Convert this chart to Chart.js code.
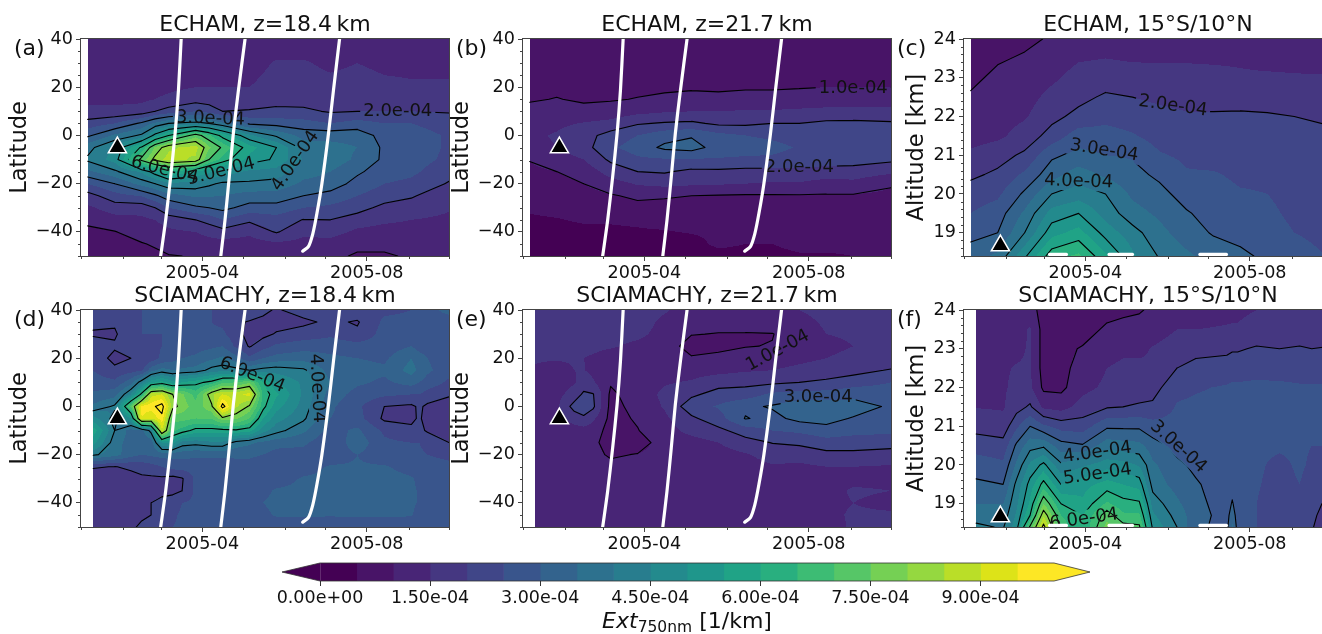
<!DOCTYPE html>
<html>
<head>
<meta charset="utf-8">
<title>Ext750nm</title>
<script src="https://cdn.jsdelivr.net/npm/chart.js@4"></script>
<style>
html, body { margin: 0; padding: 0; background: #fff; width: 1322px; height: 634px; overflow: hidden; }
canvas { position: absolute; }
</style>
</head>
<body>
<script>
// values are in 1e-5 1/km, x is day since 2005-01-01
const monthStarts = [0, 31, 59, 90, 120, 151, 181, 212, 243, 273];
const xMajor = [90, 212];
const xMajorLabels = { 90: '2005-04', 212: '2005-08' };
const latTicks = [-40, -20, 0, 20, 40];
const latMinor = [-50, -45, -35, -30, -25, -15, -10, -5, 5, 10, 15, 25, 30, 35];
const altTicks = [19, 20, 21, 22, 23, 24];
const altMinor = [18.4, 18.6, 18.8, 19.2, 19.4, 19.6, 19.8, 20.2, 20.4, 20.6, 20.8, 21.2, 21.4, 21.6, 21.8, 22.2, 22.4, 22.6, 22.8, 23.2, 23.4, 23.6, 23.8];

const viridis = ['#440154', '#481467', '#482576', '#453781', '#404688', '#39558c', '#33638d', '#2d718e', '#287d8e', '#238a8d',
  '#1f968b', '#20a386', '#29af7f', '#3dbc74', '#56c667', '#75d054', '#95d840', '#bade28', '#dde318', '#fde725'];

const daysA = [5, 25, 45, 55, 65, 85, 95, 105, 125, 145, 165, 185, 205, 225, 245, 273];
const daysEcham = [5, 25, 45, 65, 85, 105, 125, 145, 165, 185, 205, 225, 245, 273];
const daysSciaD = [9, 25, 37, 45, 52, 60, 68, 75, 85, 97, 105, 115, 125, 135, 145, 165, 185, 205, 225, 245, 251, 257, 273];
const daysSciaE = [9, 25, 38, 45, 52, 65, 85, 105, 125, 145, 165, 185, 205, 225, 245, 273];
const daysSciaF = [9, 29, 39, 49, 59, 72, 88, 106, 118, 130, 140, 158, 172, 195, 199, 203, 217, 234, 249, 258, 273];

const latsShort = [40, 30, 20, 15, 10, 5, 0, -5, -10, -15, -20, -25, -30, -35, -40, -45, -50];
const latsLong = [40, 35, 30, 25, 20, 15, 10, 5, 0, -5, -10, -15, -20, -25, -30, -35, -40, -45, -50];
const altsC = [24, 23.5, 23, 22.5, 22, 21.5, 21, 20.5, 20, 19.5, 19, 18.4];
const altsF = [24, 23.5, 23, 22.5, 22, 21.5, 21, 20.5, 20, 19.5, 19, 18.7, 18.4];

// one inner array per time column, top row first
const gridA = [
  [11, 12, 13, 14, 16, 22, 29, 38, 41, 34, 25, 18, 14, 11, 9, 8, 7],
  [11, 11, 12, 14, 16, 25, 36, 46, 47, 39, 30, 23, 17.5, 13, 9.8, 8, 7],
  [11, 11, 13, 14, 17, 31, 41, 61, 72, 46, 37, 25.5, 17, 14, 12, 9.7, 8],
  [11, 11.5, 13.5, 15, 20, 36, 52, 76, 82, 53, 40, 29, 20, 15, 13, 10.5, 9],
  [11, 12, 14, 16, 22, 40, 60, 84, 87, 60, 44, 33, 25, 17, 14, 11.5, 9.8],
  [11, 12, 15, 18, 25, 42, 73, 87, 84, 55, 43, 36, 29, 20, 15, 12.5, 10.2],
  [11, 12.5, 15, 17.5, 23, 40, 66, 76, 70, 51, 41, 35.5, 30, 22, 16.5, 13, 10.5],
  [11, 13, 15, 17, 20, 36, 58, 69, 63, 48, 39, 35, 31.5, 25, 18, 13, 11],
  [11, 13, 15, 17, 20.5, 29, 46, 57, 53, 44, 39, 33, 28, 21, 16, 13, 11],
  [12, 15.5, 17, 18.5, 21, 28, 39, 50, 49, 43, 38, 33, 28, 23, 20.5, 14, 11],
  [12, 15.5, 17, 18, 21, 27, 33, 38, 39.5, 37, 34, 30, 25, 19.8, 16, 13.5, 11.5],
  [12, 14, 16.5, 18, 19.5, 25, 33, 37, 38, 35, 33, 28, 24, 20, 17, 13, 11],
  [12, 15, 17, 18, 20, 27, 33, 35, 34, 31, 28, 25, 22, 17.5, 14, 11, 9.5],
  [12, 14, 16, 18, 20, 25, 28, 29, 29, 27, 25, 22.5, 18.5, 16, 13, 11, 9.5],
  [12, 14, 15.5, 18, 20, 25, 27, 27, 27, 26, 24, 20.5, 18, 15, 13, 11.5, 10.5],
  [12, 14, 15.5, 17, 19.5, 23, 24.5, 24.5, 24, 22, 19.5, 17, 15.5, 14, 13, 11, 10]
];
const gridB = [
  [7, 7.5, 8, 9.5, 11.5, 13, 14, 13.5, 10.2, 9, 8, 7, 5.5, 4.5, 3.5, 3, 2.5],
  [7, 7.5, 9, 10.2, 12, 14, 15.5, 15, 12.5, 10, 8.5, 7, 6, 4.8, 4, 3, 2.5],
  [7, 7.5, 8.5, 9.3, 11.5, 15.3, 18, 18, 15, 12, 10, 8, 6.5, 5.4, 4.2, 3.5, 3],
  [7, 8, 9, 9.6, 12, 16.5, 22, 24, 21, 17, 13, 9.5, 7.5, 5.3, 4.5, 3.5, 3],
  [7.5, 8, 9, 10.2, 13.5, 19.5, 25, 27.5, 24, 20, 15.5, 11, 8.5, 5.5, 4.7, 3.8, 3],
  [7.5, 8.5, 9.3, 10.8, 14.5, 20.5, 28, 31, 24.5, 20.5, 16.5, 10.5, 8.5, 6, 4.8, 3.8, 3],
  [7.5, 8.5, 9.6, 11, 15, 21, 29.5, 32, 24.5, 18.8, 15.8, 10, 8.5, 6.5, 5.2, 4, 3.2],
  [7.5, 8.5, 9.5, 10.8, 15, 19, 26.5, 28, 24.5, 19, 15.5, 9.7, 8.5, 6.5, 5.5, 5.6, 4],
  [7.5, 8.5, 9.7, 11, 15.5, 19, 25, 27.5, 24, 18.5, 15, 9.5, 8.5, 7, 6, 5, 4],
  [7.5, 8.5, 9.7, 11, 15.5, 20, 24, 26.5, 24, 18.5, 14.5, 9.5, 8.5, 7, 6, 5, 4.5],
  [7.5, 8.5, 9.8, 11.5, 16, 20, 23, 24.5, 23, 18.5, 14.5, 9.6, 8.5, 7.5, 6.5, 5.5, 4.8],
  [8, 8.5, 10, 12, 16.5, 21, 24, 24.5, 22.5, 18, 13, 9.5, 8.5, 7.5, 6.5, 5.5, 4.8],
  [8, 8.5, 10, 12, 17, 21, 24, 24.5, 22, 18, 13.5, 9.5, 8.5, 7.5, 6.5, 5.5, 5],
  [8, 8.5, 10, 12, 17, 20.5, 23, 23.5, 21, 16, 10.5, 9, 8, 7.5, 6.5, 5.5, 5]
];
const gridC = [
  [7, 8, 9, 10.5, 11.5, 13, 16, 19, 22.5, 25, 28, 33],
  [8, 9.5, 11, 12, 13, 14, 18, 21, 24, 27.5, 30, 36],
  [9, 10.5, 11.5, 13, 14.5, 17, 21, 26, 31, 36, 40, 49],
  [10.5, 12, 14, 16.5, 18.5, 22, 29, 33, 40, 47, 53, 63],
  [11, 14.5, 17, 18.5, 21.5, 27.5, 31.5, 37.5, 42.5, 50, 57, 66],
  [12, 15, 17.5, 20.8, 23.5, 27, 30, 34, 40, 43, 48, 56],
  [12, 14.5, 17, 20, 22.5, 25.5, 29.5, 31.5, 34, 37, 42, 46],
  [12, 14.5, 16.5, 19, 21.5, 23, 25.5, 29, 31.5, 34, 36.5, 39.5],
  [12, 14.5, 16.5, 18.5, 20.5, 22, 24, 25.5, 28, 30.5, 32.5, 36],
  [12, 14.5, 16, 18.5, 20.5, 21.5, 23, 25.5, 27, 28, 29.5, 33],
  [12, 14.5, 15.5, 18.3, 20.7, 21.5, 23, 24, 25.5, 27, 28.5, 31],
  [12, 14, 15.5, 18, 20.5, 21.5, 22.5, 24, 25, 26, 27, 29],
  [12, 14, 15.3, 18, 20, 21, 22, 23, 23.5, 24, 25, 27],
  [12, 14, 15.2, 17.5, 19.5, 20.5, 21, 22, 22.5, 23, 23.5, 24.5]
];
const gridD = [
  [24, 21, 19.5, 22, 24, 25, 27, 31, 36, 47, 58, 52, 41, 20.5, 17, 18, 18, 18, 18],
  [24, 21, 19, 21, 18, 21.5, 26, 33, 41, 38, 40, 37, 37, 19.8, 18, 17, 17, 17, 19],
  [25, 24, 25, 23, 20, 23, 33, 45, 72, 50, 33, 33, 32, 21, 18, 18, 18, 18, 19],
  [25, 25, 25, 24, 20, 24, 43, 62, 97, 95, 33, 32, 30, 22, 19, 19, 19, 19, 21],
  [25, 25, 25, 24, 22, 33, 53, 88, 98, 90, 42, 32, 31, 23, 19, 19, 20, 20, 21],
  [25, 25, 25, 25, 26, 37, 57, 90, 103, 98, 90, 50, 32, 25, 19, 19, 21, 23, 24],
  [25, 25, 25, 26, 28, 35, 52, 80, 82, 72, 66, 52, 32, 27, 18, 19, 22, 24, 25],
  [26, 26, 26, 27, 30, 36, 55, 76, 78, 72, 63, 43, 32, 27, 19.5, 20, 25, 26, 26],
  [26, 26, 26, 28, 31, 37, 58, 68, 72, 70, 58, 42, 31, 27, 26, 26, 26, 27, 27],
  [25, 25, 26, 29, 34, 42, 62, 84, 79, 70, 58, 44, 31, 27, 26, 26, 27, 27, 27],
  [22, 24, 26, 30, 36, 43, 69, 90, 103, 78, 58, 44, 31, 27, 26, 27, 28, 28, 27],
  [23, 21, 22, 24, 32, 42, 70, 88, 86, 76, 59, 38, 31, 28, 26, 28, 28, 28, 27],
  [24, 19.5, 18, 19.5, 26, 40, 74, 92, 79, 70, 57, 36, 31, 28, 27, 29, 29, 28, 27],
  [21, 19, 18.5, 23, 30, 42, 60, 64, 62, 55, 47, 34, 30, 27, 28, 29, 30, 29, 27],
  [19.5, 18, 20.5, 26, 32, 43, 50, 56, 52, 47, 42, 32, 28, 27, 28, 30.5, 31, 30.5, 27],
  [22, 19, 22, 28, 33, 41, 44, 44, 43, 41, 36, 31, 28, 28, 30.5, 31, 32, 31, 26],
  [22, 21, 24, 28, 31, 33, 35, 33, 31, 30, 28, 26, 27, 30.5, 31, 32, 32, 30.5, 26],
  [23, 19.5, 21, 27, 30, 32, 31, 28, 26, 27, 31, 33, 30, 30.5, 32, 33, 33, 31, 26],
  [24, 26, 27, 27, 29, 31, 29, 26, 20, 19, 24, 26, 27, 30.5, 32, 32, 32, 31, 26],
  [25, 26, 28, 30, 35, 37, 32, 25, 19, 19, 21, 25, 26, 28, 30.5, 31, 31, 30.5, 26],
  [26, 27, 27, 28, 32, 34, 30, 25, 20.8, 20.6, 21, 25, 26, 27, 29, 29.5, 29.5, 28, 26],
  [28, 27, 26.5, 28, 30, 31, 28, 23, 19, 18.2, 19.5, 23, 25, 26.5, 28, 28, 28, 27, 26],
  [32, 27, 26, 27, 27, 27, 24, 20.5, 18, 17, 18, 20, 24, 26, 26, 26, 26, 26, 25]
];
const gridE = [
  [16, 16, 16, 16, 15.5, 14.5, 13, 13, 12.5, 12, 12, 12, 12, 12, 12, 12, 12, 12, 12],
  [16, 16, 16, 16, 15.5, 13, 13, 13.5, 14, 13, 12.5, 12, 12, 12, 12, 12, 12, 12, 12],
  [16.5, 16.5, 16, 16, 15.5, 15, 14.5, 17, 22, 17, 13, 12, 12, 12, 12, 12, 12, 12, 12],
  [16.5, 16.5, 16.5, 16, 15, 15.2, 17, 21, 23, 19, 13, 12, 11.5, 12, 12, 12, 12, 12, 12],
  [16.5, 16.5, 16.5, 16, 14.5, 14, 15.5, 20.3, 21, 16, 12.5, 11, 11, 12, 12, 12, 12, 12, 12],
  [17, 17, 16.5, 15.5, 13, 11.5, 10.5, 9, 8.5, 8.5, 8, 8, 9.5, 11, 12, 12, 12, 12, 12],
  [17, 17, 16, 14, 13, 12.5, 12, 12.5, 11.5, 10.5, 9.8, 8, 10.2, 11.5, 12, 12, 12, 12, 12],
  [15.5, 14, 13.5, 12.5, 12, 13, 14.5, 16, 15.5, 14, 13, 12, 11.5, 11.5, 12, 12, 12, 12, 12],
  [13, 12, 10.2, 8, 10.5, 13, 15.5, 19, 23, 19, 16.5, 13, 12, 11.5, 11.5, 11.5, 11.5, 11.5, 11.5],
  [13, 11.5, 9.8, 8.5, 11.5, 13.5, 18, 22, 25.5, 23, 18.7, 15, 13, 12.5, 12, 12, 12, 12, 12],
  [13, 12, 9.7, 9.8, 12, 14.5, 18.5, 22.5, 29, 30.3, 22.5, 18, 14.5, 13, 12.5, 12, 12, 12, 12],
  [14, 13, 9.8, 10.2, 13, 15, 19, 26, 30.5, 28.5, 25, 20.2, 17, 14.5, 13, 12.5, 12.5, 12.5, 12.5],
  [15, 14, 13, 13, 14, 16, 20, 27, 33, 31.5, 26, 21, 17, 14, 13, 13, 13, 13, 13],
  [16, 15.5, 15, 14, 15, 17, 21, 27, 33, 32, 28, 23, 18.5, 15, 13.5, 13.5, 14, 14, 13.5],
  [17, 16.5, 15.5, 15, 16, 18, 23, 28, 33, 29.5, 27, 22, 19, 15, 14, 15.5, 15, 15.5, 15.5],
  [17, 16.5, 15.5, 15, 16, 20.5, 25, 27.5, 29, 27, 26, 22, 18, 14.5, 14, 15, 14, 15.5, 16]
];
const gridF = [
  [13, 13.5, 14, 14, 14.5, 14.8, 18, 23, 27.5, 31, 35, 38, 41],
  [14, 14, 14.5, 14.5, 14.5, 14.5, 17, 22, 26, 30, 35, 37, 39.5],
  [12, 13, 14, 15.3, 16, 18, 24, 31, 36, 41.5, 44, 46, 48],
  [12, 15.5, 15.5, 15.5, 16, 20.8, 30, 38, 46, 52, 56, 60, 71],
  [8, 8, 8, 8, 9, 14, 26, 39, 51.5, 62, 75, 84, 92],
  [8, 8, 8.5, 8.5, 8.8, 13, 23, 32, 41, 50, 60, 65, 68],
  [7, 7.5, 10.5, 12, 13.5, 17, 22.5, 30.5, 44, 53, 56, 60, 60],
  [8, 11, 13, 15, 16, 19.5, 29, 38, 48, 57, 66, 73, 77],
  [9, 11.5, 14, 16, 17.5, 20, 29, 37, 47, 55, 62, 66, 72],
  [9.5, 12, 14, 16, 18, 20.5, 29, 36.5, 44.5, 53, 61, 66, 71],
  [11, 13, 15.3, 15.5, 18, 21, 27, 32, 36, 38, 43, 46, 49],
  [12, 15, 17, 20, 23.5, 25.5, 26.5, 28.5, 31, 33, 36, 38, 40],
  [12.5, 15, 18.5, 21.5, 24.5, 26, 27, 28, 29, 30.5, 31.5, 32, 31],
  [13.5, 15.5, 19, 22, 25.5, 26.5, 27, 27.5, 27.5, 27.5, 27.5, 28, 28.5],
  [14, 15.5, 19.5, 22.5, 26, 27, 27, 27.5, 27.5, 28, 30.5, 33, 36],
  [14, 15.5, 19.5, 22.5, 26, 27, 27, 27.5, 27.5, 27.5, 27.5, 27.5, 28],
  [15, 17, 20.5, 23.5, 26, 26.5, 27, 26.5, 26, 25.5, 25, 25, 25],
  [15, 17, 20, 23, 26, 26.5, 26.5, 26, 23.5, 23, 22.5, 22, 22],
  [15, 17, 20.5, 23, 25.5, 26, 26, 26, 26, 25, 21, 21, 21],
  [15, 17, 20, 23, 25.5, 25.5, 25.5, 25, 24, 22.5, 21, 20.5, 20.2],
  [15, 17, 20.5, 23, 25.5, 25.5, 25.5, 25, 24.5, 23, 19, 18.5, 18]
];

// [level, day, y, angle]
const labelsA = [[30, 96, 6.9, 2], [20, 235, 9.8, 0], [60, 62, -14.4, 14], [50, 104, -15, -14], [40, 159, -10.6, -55]];
const labelsB = [[10, 245, 19.5, 0], [20, 205, -13.3, 0]];
const labelsC = [[20, 155, 22.27, 8], [30, 104, 21.12, 9], [40, 85, 20.32, 2]];
const labelsD = [[60, 127, 13, 22], [40, 175, 7.5, 87]];
const labelsE = [[10, 189, 23.1, -28], [30, 219, 3.7, 0]];
const labelsF = [[30, 159, 20.47, 42], [40, 99, 20.32, -8], [50, 99, 19.76, -8], [60, 89, 18.6, -8]];

const levelsA = [10, 20, 30, 40, 50, 60, 70, 80];
const levelsB = [10, 20, 30];
const levelsC = [10, 20, 30, 40, 50, 60];
const levelsD = [20, 40, 60, 80, 100];
const levelsE = [10, 20, 30];
const levelsF = [10, 20, 30, 40, 50, 60, 70, 80, 90];

// white curves, day and latitude
const curve1Days = [59.1, 62.8, 66.5, 69.8, 72.3, 74.3];
const curve1Lats = [-50, -35.2, -17.2, 0.8, 18.8, 40];
const curve2Days = [103.7, 106.8, 110, 113, 116.8, 121.7];
const curve2Lats = [-50, -35.2, -17.2, 0.8, 18.8, 40];
const curve3Days = [164.5, 168.8, 172, 175, 178.7, 183.6, 187.3, 191.8];
const curve3Lats = [-48, -46, -40.7, -32.4, -20, 0.8, 18.8, 40];
// short white dashes at the bottom of the altitude panels
const dashStarts = [63.5, 107.6, 175];
const dashEnds = [76, 125, 194.7];
const dashAlt = 18.44;

const cbarTicks = [0, 15, 30, 45, 60, 75, 90];
const cbarLabels = ['0.00e+00', '1.50e-04', '3.00e-04', '4.50e-04', '6.00e-04', '7.50e-04', '9.00e-04'];
const bandWidth = 5;

const FONT = '"DejaVu Sans"';
const MARGIN_L = 81, MARGIN_T = 39, AXIS_W = 368, AXIS_H = 217;

function findCell(arr, v) {
  // arr can run either way
  for (let i = 0; i < arr.length - 1; i++) {
    if ((v >= arr[i] && v <= arr[i + 1]) || (v <= arr[i] && v >= arr[i + 1])) return i;
  }
  return -1;
}

function drawFill(chart, p) {
  const ctx = chart.ctx, area = chart.chartArea;
  const sx = chart.scales.x, sy = chart.scales.y;
  for (let py = Math.round(area.top); py < Math.round(area.bottom); py++) {
    const yv = sy.getValueForPixel(py + 0.5);
    const j = findCell(p.rows, yv);
    if (j < 0) continue;
    const t = (yv - p.rows[j]) / (p.rows[j + 1] - p.rows[j]);
    let runStart = -1, runBand = -1;
    for (let px = Math.round(area.left); px <= Math.round(area.right); px++) {
      let band = -1;
      if (px < Math.round(area.right)) {
        const xv = sx.getValueForPixel(px + 0.5);
        const i = findCell(p.cols, xv);
        if (i >= 0) {
          const u = (xv - p.cols[i]) / (p.cols[i + 1] - p.cols[i]);
          const a = p.grid[i][j] * (1 - t) + p.grid[i][j + 1] * t;
          const b = p.grid[i + 1][j] * (1 - t) + p.grid[i + 1][j + 1] * t;
          const v = a * (1 - u) + b * u;
          band = Math.max(0, Math.min(viridis.length - 1, Math.floor(v / bandWidth)));
        }
      }
      if (band !== runBand) {
        if (runBand >= 0) {
          ctx.fillStyle = viridis[runBand];
          ctx.fillRect(runStart, py, px - runStart, 1);
        }
        runStart = px;
        runBand = band;
      }
    }
  }
}

function labelText(level) {
  return (level / 10).toFixed(1) + 'e-04';
}

function drawContours(chart, p) {
  const ctx = chart.ctx, area = chart.chartArea;
  const sx = chart.scales.x, sy = chart.scales.y;
  const X = i => sx.getPixelForValue(i);
  const Y = j => sy.getPixelForValue(j);
  ctx.font = '18px ' + FONT;
  p.levels.forEach(level => {
    ctx.save();
    // cut the line under its labels
    ctx.beginPath();
    ctx.rect(area.left, area.top, area.right - area.left, area.bottom - area.top);
    p.labels.filter(l => l[0] === level).forEach(l => {
      const w = ctx.measureText(labelText(level)).width / 2 + 3, h = 9;
      const c = Math.cos(l[3] * Math.PI / 180), s = Math.sin(l[3] * Math.PI / 180);
      const cx = X(l[1]), cy = Y(l[2]);
      [[-w, -h], [w, -h], [w, h], [-w, h]].forEach((q, n) => {
        const qx = cx + q[0] * c - q[1] * s, qy = cy + q[0] * s + q[1] * c;
        if (n === 0) ctx.moveTo(qx, qy); else ctx.lineTo(qx, qy);
      });
      ctx.closePath();
    });
    ctx.clip('evenodd');

    ctx.beginPath();
    for (let i = 0; i < p.cols.length - 1; i++) {
      for (let j = 0; j < p.rows.length - 1; j++) {
        const x0 = p.cols[i], x1 = p.cols[i + 1], y0 = p.rows[j], y1 = p.rows[j + 1];
        const a = p.grid[i][j], b = p.grid[i + 1][j], c = p.grid[i + 1][j + 1], d = p.grid[i][j + 1];
        const pts = [];
        if ((a < level) !== (b < level)) pts.push([x0 + (level - a) / (b - a) * (x1 - x0), y0]);
        if ((b < level) !== (c < level)) pts.push([x1, y0 + (level - b) / (c - b) * (y1 - y0)]);
        if ((c < level) !== (d < level)) pts.push([x0 + (level - d) / (c - d) * (x1 - x0), y1]);
        if ((d < level) !== (a < level)) pts.push([x0, y0 + (level - a) / (d - a) * (y1 - y0)]);
        const seg = (m, n) => {
          ctx.moveTo(X(pts[m][0]), Y(pts[m][1]));
          ctx.lineTo(X(pts[n][0]), Y(pts[n][1]));
        };
        if (pts.length === 2) seg(0, 1);
        if (pts.length === 4) {
          const mid = (a + b + c + d) / 4;
          if ((mid < level) === (a < level)) { seg(0, 1); seg(2, 3); } else { seg(0, 3); seg(1, 2); }
        }
      }
    }
    ctx.strokeStyle = '#000';
    ctx.lineWidth = 1.1;
    ctx.lineCap = 'round';
    ctx.stroke();
    ctx.restore();
  });

  // labels go on after all lines
  ctx.fillStyle = '#111';
  ctx.textAlign = 'center';
  ctx.textBaseline = 'middle';
  p.labels.forEach(l => {
    ctx.save();
    ctx.translate(X(l[1]), Y(l[2]));
    ctx.rotate(l[3] * Math.PI / 180);
    ctx.fillText(labelText(l[0]), 0, 0);
    ctx.restore();
  });
}

function makePanel(p) {
  const canvas = document.createElement('canvas');
  canvas.width = MARGIN_L + AXIS_W + 2;
  canvas.height = MARGIN_T + AXIS_H + 30;
  canvas.style.left = (p.left - MARGIN_L) + 'px';
  canvas.style.top = (p.top - MARGIN_T) + 'px';
  document.body.appendChild(canvas);

  const panelPlugin = {
    id: 'panel',
    beforeDatasetsDraw(chart) {
      drawFill(chart, p);
      drawContours(chart, p);
    },
    afterDatasetsDraw(chart) {
      const ctx = chart.ctx, area = chart.chartArea;
      const sx = chart.scales.x, sy = chart.scales.y;
      ctx.save();
      ctx.strokeStyle = '#444';
      ctx.lineWidth = 1;
      ctx.strokeRect(area.left - 0.5, area.top - 0.5, area.right - area.left + 1, area.bottom - area.top + 1);
      // minor ticks
      ctx.beginPath();
      monthStarts.filter(m => !xMajor.includes(m)).forEach(m => {
        const x = Math.round(sx.getPixelForValue(m)) + 0.5;
        ctx.moveTo(x, area.bottom);
        ctx.lineTo(x, area.bottom + 3);
      });
      p.minor.forEach(v => {
        const y = Math.round(sy.getPixelForValue(v)) + 0.5;
        ctx.moveTo(area.left, y);
        ctx.lineTo(area.left - 3, y);
      });
      ctx.stroke();

      // title, panel letter and y label
      ctx.fillStyle = '#111';
      ctx.textBaseline = 'middle';
      ctx.textAlign = 'center';
      ctx.font = '22px ' + FONT;
      ctx.fillText(p.title, (area.left + area.right) / 2, area.top - 14);
      ctx.textAlign = 'left';
      ctx.fillText(p.tag, area.left - 67, area.top + 10);
      ctx.textAlign = 'center';
      ctx.font = '22.5px ' + FONT;
      ctx.translate(area.left + p.ylabelX, (area.top + area.bottom) / 2);
      ctx.rotate(-Math.PI / 2);
      ctx.fillText(p.ylabel, 0, 0);
      ctx.restore();
    }
  };

  const line = (xs, ys) => ({
    data: xs.map((x, i) => ({ x: x, y: ys[i] })),
    showLine: true,
    borderColor: '#fff',
    borderWidth: 3.2,
    borderCapStyle: 'round',
    pointRadius: 0,
    tension: 0.25
  });
  const datasets = p.isLat
    ? [line(curve1Days, curve1Lats), line(curve2Days, curve2Lats), line(curve3Days, curve3Lats)]
    : dashStarts.map((s, i) => line([s, dashEnds[i]], [dashAlt, dashAlt]));
  datasets.push({
    data: [{ x: 27, y: p.eruption }],
    pointStyle: 'triangle',
    pointRadius: 10.5,
    backgroundColor: '#000',
    borderColor: '#fff',
    borderWidth: 1.5,
    clip: false
  });

  new Chart(canvas, {
    type: 'scatter',
    data: { datasets: datasets },
    options: {
      responsive: false,
      animation: false,
      events: [],
      layout: { autoPadding: false, padding: { left: 0, top: MARGIN_T, right: 2, bottom: 0 } },
      plugins: { legend: { display: false }, tooltip: { enabled: false }, title: { display: false } },
      scales: {
        x: {
          type: 'linear',
          min: 0,
          max: 273,
          // fixed box, keeps the axes where the layout wants them
          afterFit(s) { s.height = 30; s.paddingLeft = 0; s.paddingRight = 0; },
          afterBuildTicks(s) { s.ticks = xMajor.map(v => ({ value: v })); },
          grid: { drawOnChartArea: false, tickLength: 5, tickColor: '#444' },
          border: { display: false },
          ticks: {
            autoSkip: false,
            maxRotation: 0,
            padding: 2,
            color: '#111',
            font: { family: FONT, size: 17.6 },
            callback: v => xMajorLabels[v]
          }
        },
        y: {
          type: 'linear',
          min: p.yMin,
          max: p.yMax,
          afterFit(s) { s.width = MARGIN_L; s.paddingTop = 0; s.paddingBottom = 0; },
          afterBuildTicks(s) { s.ticks = p.yTicks.map(v => ({ value: v })); },
          grid: { drawOnChartArea: false, tickLength: 5, tickColor: '#444' },
          border: { display: false },
          ticks: {
            autoSkip: false,
            padding: 3,
            color: '#111',
            font: { family: FONT, size: 17.6 },
            callback: v => String(v).replace('-', '\u2212')
          }
        }
      }
    },
    plugins: [panelPlugin]
  });
}

const latBase = { isLat: true, yMin: -50, yMax: 40, yTicks: latTicks, minor: latMinor, ylabel: 'Latitude', ylabelX: -61, eruption: -5 };
const altBase = { isLat: false, yMin: 18.4, yMax: 24, yTicks: altTicks, minor: altMinor, ylabel: 'Altitude [km]', ylabelX: -47, eruption: 18.67 };

makePanel({ ...latBase, left: 81, top: 39, title: 'ECHAM, z=18.4\u2009km', tag: '(a)', cols: daysA, rows: latsShort, grid: gridA, levels: levelsA, labels: labelsA });
makePanel({ ...latBase, left: 523, top: 39, title: 'ECHAM, z=21.7\u2009km', tag: '(b)', cols: daysEcham, rows: latsShort, grid: gridB, levels: levelsB, labels: labelsB });
makePanel({ ...altBase, left: 964, top: 39, title: 'ECHAM, 15\u00b0S/10\u00b0N', tag: '(c)', cols: daysEcham, rows: altsC, grid: gridC, levels: levelsC, labels: labelsC });
makePanel({ ...latBase, left: 81, top: 310, title: 'SCIAMACHY, z=18.4\u2009km', tag: '(d)', cols: daysSciaD, rows: latsLong, grid: gridD, levels: levelsD, labels: labelsD });
makePanel({ ...latBase, left: 523, top: 310, title: 'SCIAMACHY, z=21.7\u2009km', tag: '(e)', cols: daysSciaE, rows: latsLong, grid: gridE, levels: levelsE, labels: labelsE });
makePanel({ ...altBase, left: 964, top: 310, title: 'SCIAMACHY, 15\u00b0S/10\u00b0N', tag: '(f)', cols: daysSciaF, rows: altsF, grid: gridF, levels: levelsF, labels: labelsF });

// colour bar: stacked horizontal bar, one piece per band
(function () {
  const canvas = document.createElement('canvas');
  canvas.width = 850;
  canvas.height = 84;
  canvas.style.left = '260px';
  canvas.style.top = '550px';
  document.body.appendChild(canvas);

  const extPlugin = {
    id: 'ext',
    afterDatasetsDraw(chart) {
      const ctx = chart.ctx, a = chart.chartArea;
      const mid = (a.top + a.bottom) / 2;
      ctx.save();
      ctx.fillStyle = viridis[0];
      ctx.beginPath();
      ctx.moveTo(a.left, a.top); ctx.lineTo(a.left - 38, mid); ctx.lineTo(a.left, a.bottom); ctx.closePath();
      ctx.fill();
      ctx.fillStyle = viridis[viridis.length - 1];
      ctx.beginPath();
      ctx.moveTo(a.right, a.top); ctx.lineTo(a.right + 36, mid); ctx.lineTo(a.right, a.bottom); ctx.closePath();
      ctx.fill();
      ctx.strokeStyle = '#333';
      ctx.lineWidth = 0.8;
      ctx.beginPath();
      ctx.moveTo(a.left, a.top); ctx.lineTo(a.left - 38, mid); ctx.lineTo(a.left, a.bottom);
      ctx.lineTo(a.right, a.bottom); ctx.lineTo(a.right + 36, mid); ctx.lineTo(a.right, a.top); ctx.closePath();
      ctx.stroke();

      // Ext_750nm [1/km]
      const base = 78;
      ctx.fillStyle = '#111';
      ctx.textBaseline = 'alphabetic';
      ctx.textAlign = 'left';
      const parts = [['Ext', 'italic 22px ' + FONT, 0], ['750nm', '15.5px ' + FONT, 4], [' [1/km]', '22px ' + FONT, 0]];
      let total = 0;
      parts.forEach(q => { ctx.font = q[1]; total += ctx.measureText(q[0]).width; });
      let x = 427 - total / 2;
      parts.forEach(q => {
        ctx.font = q[1];
        ctx.fillText(q[0], x, base + q[2]);
        x += ctx.measureText(q[0]).width;
      });
      ctx.restore();
    }
  };

  new Chart(canvas, {
    type: 'bar',
    data: {
      labels: [''],
      datasets: viridis.map(c => ({ data: [bandWidth], backgroundColor: c, categoryPercentage: 1, barPercentage: 1 }))
    },
    options: {
      indexAxis: 'y',
      responsive: false,
      animation: false,
      events: [],
      layout: { padding: { left: 60, top: 13, right: 56, bottom: 0 } },
      plugins: { legend: { display: false }, tooltip: { enabled: false } },
      scales: {
        y: { stacked: true, display: false },
        x: {
          stacked: true,
          min: 0,
          max: 100,
          afterFit(s) { s.height = 53; },
          afterBuildTicks(s) { s.ticks = cbarTicks.map(v => ({ value: v })); },
          grid: { drawOnChartArea: false, tickLength: 5, tickColor: '#333' },
          border: { display: false },
          ticks: {
            autoSkip: false,
            maxRotation: 0,
            padding: 2,
            color: '#111',
            font: { family: FONT, size: 17.5 },
            callback: v => cbarLabels[cbarTicks.indexOf(v)]
          }
        }
      }
    },
    plugins: [extPlugin]
  });
})();
</script>
</body>
</html>
